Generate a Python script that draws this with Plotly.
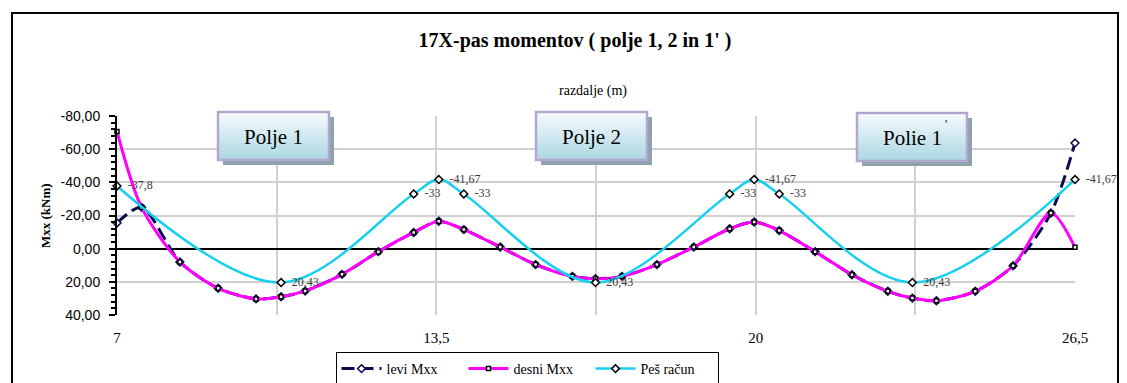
import plotly.graph_objects as go

# Distance along the strip (m) of the computed moment points
x_pos = [7.0, 7.5, 8.28, 9.06, 9.83, 10.34, 10.83, 11.58, 12.32, 13.04, 13.55,
         14.06, 14.8, 15.52, 16.27, 16.74, 17.28, 17.99, 18.74, 19.47, 19.97,
         20.48, 21.21, 21.96, 22.69, 23.19, 23.68, 24.47, 25.24, 26.01, 26.5]

# Moments Mxx (kNm) from the left and right support models
levi_mxx = [-15.5, -24.9, 8.0, 23.9, 30.3, 29.0, 25.5, 15.5, 1.8, -9.8, -16.5,
            -11.5, -1.0, 9.6, 16.7, 18.1, 16.7, 9.6, -1.0, -12.0, -16.1,
            -10.9, 1.8, 15.7, 25.7, 29.8, 31.4, 25.7, 10.3, -21.5, -63.7]
desni_mxx = [-70.7, -24.9, 8.0, 23.9, 30.3, 29.0, 25.5, 15.5, 1.8, -9.8, -16.5,
             -11.5, -1.0, 9.6, 16.7, 18.1, 16.7, 9.6, -1.0, -12.0, -16.1,
             -10.9, 1.8, 15.7, 25.7, 29.8, 31.4, 25.7, 10.3, -21.5, -0.8]

# Hand calculation ("Peš račun")
pes_x = [7.0, 10.34, 13.04, 13.55, 14.06, 16.74, 19.47, 19.97, 20.48, 23.19, 26.5]
pes_mxx = [-37.8, 20.43, -33, -41.67, -33, 20.43, -33, -41.67, -33, 20.43, -41.67]

y_ticks = [-80, -60, -40, -20, 0, 20, 40]
x_ticks = [7, 13.5, 20, 26.5]
x_tick_text = ["7", "13,5", "20", "26,5"]

field_names = ["Polje 1", "Polje 2", "Polie 1"]

SERIF = "Liberation Serif"
SANS = "Liberation Sans"

W, H = 1127, 383
L, R, T, B = 117, 52, 116, 68


def px(x):
    return (x - L) / (W - L - R)


def py(y):
    return (H - B - y) / (H - T - B)


def comma(v):
    s = ("%g" % v)
    return s.replace(".", ",")


fig = go.Figure()

fig.add_trace(go.Scatter(
    x=x_pos, y=levi_mxx, name="levi Mxx", mode="lines+markers",
    line=dict(color="#0a0a50", width=3, dash="13px,6px", shape="spline", smoothing=0.8),
    marker=dict(symbol="diamond", size=6, color="white",
                line=dict(color="#0a0a50", width=1.5)),
    cliponaxis=False,
))
fig.add_trace(go.Scatter(
    x=x_pos, y=desni_mxx, name="desni Mxx", mode="lines+markers",
    line=dict(color="#ff00ff", width=3, shape="spline", smoothing=0.8),
    marker=dict(symbol="square", size=4, color="white",
                line=dict(color="black", width=1.5)),
    cliponaxis=False,
))
fig.add_trace(go.Scatter(
    x=pes_x, y=pes_mxx, name="Peš račun", mode="lines+markers+text",
    line=dict(color="#16d0ee", width=2.5, shape="spline", smoothing=1),
    marker=dict(symbol="diamond", size=6, color="white",
                line=dict(color="black", width=1.5)),
    text=["  " + comma(v) for v in pes_mxx], textposition="middle right",
    textfont=dict(family=SERIF, size=12, color="#3a3a3a"),
    cliponaxis=False,
))

shapes = []
annotations = []

# Outer chart frame
shapes.append(dict(type="rect", xref="paper", yref="paper",
                   x0=px(12), x1=px(1118), y0=py(395), y1=py(13),
                   line=dict(color="black", width=2), layer="below"))

# Field label boxes: shadow, graded fill, border, caption
boxes = [(218, 329, 112, 160), (536, 647, 112, 160), (857, 967, 113, 161)]
n_strips = 16
top_rgb = (246, 252, 254)
bot_rgb = (172, 214, 226)
for (x0, x1, y0, y1), name in zip(boxes, field_names):
    shapes.append(dict(type="rect", xref="paper", yref="paper",
                       x0=px(x0 + 5), x1=px(x1 + 5), y0=py(y1 + 5), y1=py(y0 + 5),
                       fillcolor="#8ea2ab", line=dict(width=0)))
    h = (y1 - y0) / n_strips
    for i in range(n_strips):
        t = (i + 0.5) / n_strips
        c = tuple(round(a + (b - a) * t) for a, b in zip(top_rgb, bot_rgb))
        shapes.append(dict(type="rect", xref="paper", yref="paper",
                           x0=px(x0), x1=px(x1),
                           y0=py(y0 + (i + 1) * h + 0.3), y1=py(y0 + i * h),
                           fillcolor="rgb(%d,%d,%d)" % c, line=dict(width=0)))
    shapes.append(dict(type="rect", xref="paper", yref="paper",
                       x0=px(x0), x1=px(x1), y0=py(y1), y1=py(y0),
                       line=dict(color="#b3a6cf", width=2.5)))
    annotations.append(dict(xref="paper", yref="paper", x=px((x0 + x1) / 2),
                            y=py((y0 + y1) / 2 + 1), text=name, showarrow=False,
                            xanchor="center", yanchor="middle",
                            font=dict(family=SERIF, size=21, color="black")))

# Prime mark on the third field caption
annotations.append(dict(xref="paper", yref="paper", x=px(946), y=py(124),
                        text="'", showarrow=False, xanchor="center", yanchor="middle",
                        font=dict(family=SERIF, size=12, color="black")))

# Axis titles
annotations.append(dict(xref="paper", yref="paper", x=px(593), y=py(91),
                        text="razdalje (m)", showarrow=False,
                        xanchor="center", yanchor="middle",
                        font=dict(family=SERIF, size=14, color="black")))
annotations.append(dict(xref="paper", yref="paper", x=px(45), y=py(216),
                        text="<b>Mxx (kNm)</b>", showarrow=False, textangle=-90,
                        xanchor="center", yanchor="middle",
                        font=dict(family=SERIF, size=13, color="black")))

fig.update_layout(
    width=W, height=H,
    margin=dict(l=L, r=R, t=T, b=B, autoexpand=False),
    paper_bgcolor="white", plot_bgcolor="white",
    title=dict(text="<b>17X-pas momentov ( polje 1, 2 in 1' )</b>",
               x=575 / W, xanchor="center", y=1 - 40 / H, yanchor="middle",
               font=dict(family=SERIF, size=20, color="black")),
    showlegend=True,
    legend=dict(orientation="h", x=px(527), y=py(352), xanchor="center", yanchor="top",
                bordercolor="black", borderwidth=1, bgcolor="white",
                font=dict(family=SERIF, size=14, color="black"),
                itemwidth=40, tracegroupgap=0, entrywidth=72, entrywidthmode="pixels"),
    shapes=shapes,
    annotations=annotations,
    xaxis=dict(
        range=[7, 26.5], tickvals=x_ticks, ticktext=x_tick_text,
        showgrid=True, gridcolor="#d0d0d0", gridwidth=2,
        ticks="outside", ticklen=9, tickcolor="rgba(0,0,0,0)",
        tickfont=dict(family=SERIF, size=15, color="black"),
        minor=dict(tick0=7, dtick=3.25, showgrid=True, gridcolor="#d0d0d0", gridwidth=2),
        zeroline=False, showline=False, mirror=False,
    ),
    yaxis=dict(
        range=[40, -80], tickvals=y_ticks,
        ticktext=[("%.2f" % v).replace(".", ",") for v in y_ticks],
        showgrid=True, gridcolor="#d0d0d0", gridwidth=2,
        zeroline=True, zerolinecolor="black", zerolinewidth=1.5,
        showline=True, linecolor="black", linewidth=2,
        ticks="outside", ticklen=6, tickcolor="black", tickwidth=1.5,
        ticklabelstandoff=6,
        minor=dict(dtick=4, ticks="outside", ticklen=4, tickcolor="black", showgrid=False),
        tickfont=dict(family=SANS, size=14, color="black"),
    ),
)

fig.write_html("out.html")
